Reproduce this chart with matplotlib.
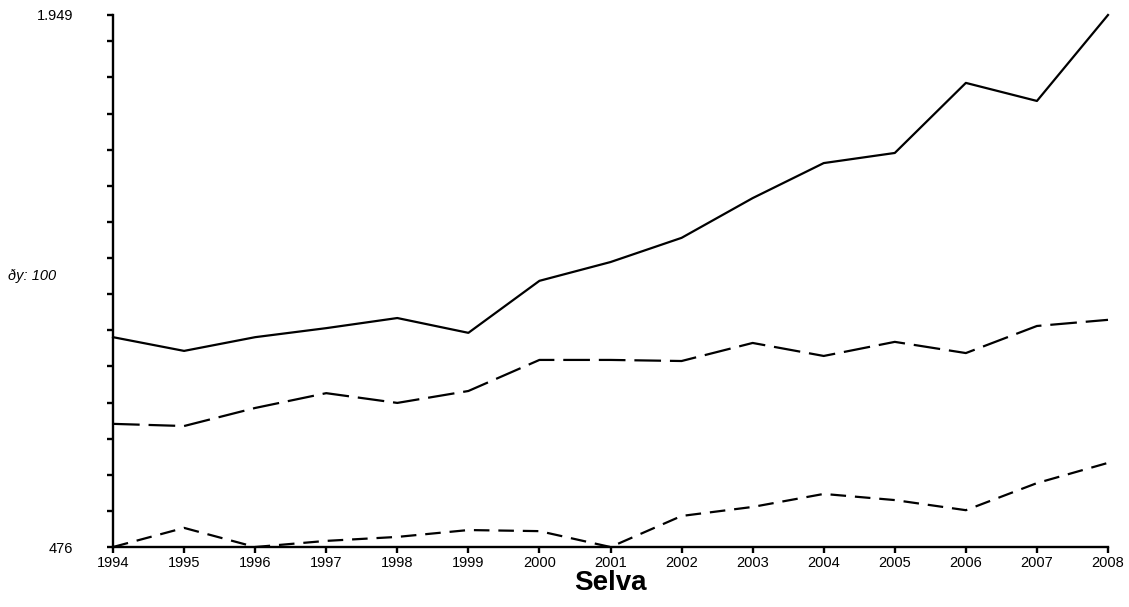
import numpy as np
import matplotlib.pyplot as plt

plt.rcParams['font.family'] = ['Liberation Sans', 'DejaVu Sans']

years = list(range(1994, 2009))
# three series
solid = [1057, 1019, 1057, 1082, 1110, 1069, 1213, 1265, 1332, 1442, 1539, 1567, 1761, 1711, 1949]
long_dash = [817, 811, 861, 902, 875, 908, 994, 994, 991, 1041, 1005, 1044, 1013, 1088, 1105]
short_dash = [476, 529, 476, 493, 504, 523, 520, 476, 562, 587, 623, 606, 578, 653, 709]

y_min, y_max, y_step = 476, 1949, 100
y_labels = {476: '476', 1949: '1.949'}
x_title = 'Selva'
y_note = 'ðy: 100'

fig = plt.figure(figsize=(11.29, 6.07), dpi=100)
ax = fig.add_axes([0.1001, 0.0988, 0.8813, 0.8765])

ax.plot(years, solid, color='black', lw=1.6, clip_on=False)
l2, = ax.plot(years, long_dash, color='black', lw=1.6, clip_on=False)
l2.set_dashes((12, 4))
l3, = ax.plot(years, short_dash, color='black', lw=1.6, clip_on=False)
l3.set_dashes((7, 4))

ax.set_xlim(years[0], years[-1])
ax.set_ylim(y_min, y_max)

for s in ['top', 'right']:
    ax.spines[s].set_visible(False)
for s in ['left', 'bottom']:
    ax.spines[s].set_linewidth(1.7)

yt = list(np.arange(y_min, y_max, y_step)) + [y_max]
ax.set_yticks(yt)
ax.set_yticklabels([y_labels.get(int(v), '') for v in yt])
ax.set_xticks(years)
ax.set_xticklabels([str(y) for y in years])

ax.tick_params(axis='y', direction='out', length=4.5, width=1.7, pad=24, labelsize=10.5)
ax.tick_params(axis='x', direction='out', length=4.5, width=1.7, pad=2, labelsize=10.5)

ax.set_xlabel(x_title, fontsize=20, fontweight='bold', labelpad=0)
fig.text(8 / 1129, 1 - 276 / 607, y_note, fontsize=10.5, style='italic', va='center', ha='left')

fig.savefig('out.png', dpi=100)
